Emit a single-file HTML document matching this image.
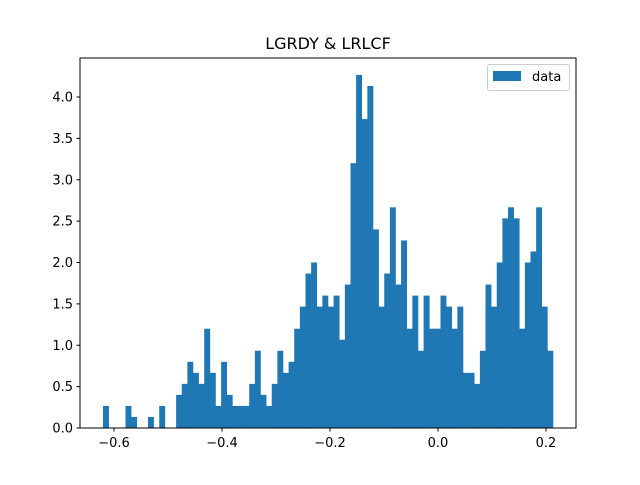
<!DOCTYPE html>
<html><head><meta charset="utf-8"><style>
body{margin:0;background:#fff;}
svg text{font-family:"DejaVu Sans","Liberation Sans",sans-serif;fill:#000;}
</style></head><body>
<svg id="chart" width="640" height="480" viewBox="0 0 640 480" xmlns="http://www.w3.org/2000/svg">
<rect width="640" height="480" fill="#fff"/>
<text x="328" y="49" text-anchor="middle" font-size="16">LGRDY &amp; LRLCF</text>
<g id="bars"></g>
<g id="xaxis"></g>
<g id="yaxis"></g>
<rect x="80" y="58" width="496" height="370" fill="none" stroke="#000" stroke-width="1"/>
<g>
<rect x="487.5" y="64.5" width="82" height="26" rx="2" fill="#fff" stroke="#ccc"/>
<rect x="493" y="71" width="28" height="10" fill="#1f77b4"/>
<text x="532" y="81" font-size="13">data</text>
</g>
</svg>
<script>
const binStart = -0.6204;
const binWidth = 0.010417;
const binCounts = [2,0,0,0,2,1,0,0,1,0,2,0,0,3,4,6,5,4,9,5,2,6,3,2,2,2,4,7,3,2,4,7,5,6,9,11,14,15,11,12,11,12,8,13,24,32,28,31,18,11,14,20,13,17,9,12,7,12,9,9,12,11,9,11,5,5,4,7,13,11,15,19,20,19,9,15,16,20,11,7];
const densityPerCount = 0.133333;
const xTicks = [-0.6,-0.4,-0.2,0.0,0.2];
const xTickLabels = ["−0.6","−0.4","−0.2","0.0","0.2"];
const yTicks = [0,0.5,1.0,1.5,2.0,2.5,3.0,3.5,4.0];
const yTickLabels = ["0.0","0.5","1.0","1.5","2.0","2.5","3.0","3.5","4.0"];

const NS = "http://www.w3.org/2000/svg";
function xs(v){return 438 + v*540;}
function ys(v){return 428 - v*82.75;}
const bars = document.getElementById('bars');
binCounts.forEach((c,i)=>{
  if(c<=0) return;
  const x0 = xs(binStart + i*binWidth), x1 = xs(binStart + (i+1)*binWidth);
  const h = c*densityPerCount;
  const r = document.createElementNS(NS,'rect');
  r.setAttribute('x', x0); r.setAttribute('width', x1-x0+0.3);
  r.setAttribute('y', ys(h)); r.setAttribute('height', 428-ys(h));
  r.setAttribute('fill','#1f77b4');
  
  
  bars.appendChild(r);
});
const xa = document.getElementById('xaxis');
xTicks.forEach((t,i)=>{
  const x = xs(t);
  const l = document.createElementNS(NS,'line');
  l.setAttribute('x1',x);l.setAttribute('x2',x);l.setAttribute('y1',428);l.setAttribute('y2',431.5);l.setAttribute('stroke','#000');
  
  
  xa.appendChild(l);
  const tx = document.createElementNS(NS,'text');
  tx.setAttribute('x',x);tx.setAttribute('y',447);tx.setAttribute('text-anchor','middle');tx.setAttribute('font-size','13');
  tx.textContent = xTickLabels[i];
  
  
  xa.appendChild(tx);
});
const ya = document.getElementById('yaxis');
yTicks.forEach((t,i)=>{
  const y = ys(t);
  const l = document.createElementNS(NS,'line');
  l.setAttribute('x1',76.5);l.setAttribute('x2',80);l.setAttribute('y1',y);l.setAttribute('y2',y);l.setAttribute('stroke','#000');
  
  
  ya.appendChild(l);
  const tx = document.createElementNS(NS,'text');
  tx.setAttribute('x',73);tx.setAttribute('y',y+4.5);tx.setAttribute('text-anchor','end');tx.setAttribute('font-size','13');
  tx.textContent = yTickLabels[i];
  
  
  ya.appendChild(tx);
});
</script>
</body></html>
